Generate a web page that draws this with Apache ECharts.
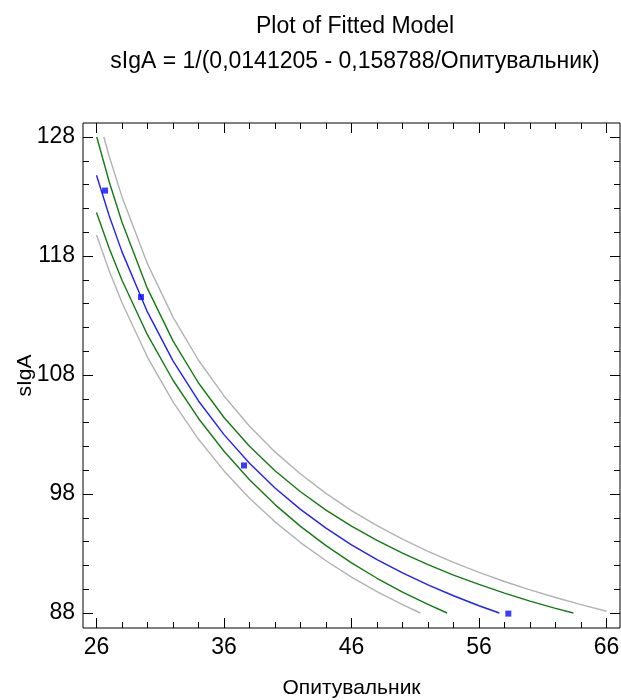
<!DOCTYPE html>
<html>
<head>
<meta charset="utf-8">
<script src="https://cdn.jsdelivr.net/npm/echarts@6/dist/echarts.min.js"></script>
<style>html,body{margin:0;padding:0;background:#fff;}#c{width:621px;height:700px;}</style>
</head>
<body>
<div id="c"></div>
<script>
// ---- data ----
const titleLine1 = 'Plot of Fitted Model';
const titleLine2 = 'sIgA = 1/(0,0141205 - 0,158788/Опитувальник)';
const xName = 'Опитувальник';
const yName = 'sIgA';
const xTickLabels = [26, 36, 46, 56, 66];
const yTickLabels = [88, 98, 108, 118, 128];
const xMinorTicks = [26,28,30,32,34,36,38,40,42,44,46,48,50,52,54,56,58,60,62,64,66];
const yMinorTicks = [88,90,92,94,96,98,100,102,104,106,108,110,112,114,116,118,120,122,124,126,128];

const obsX = [26.67, 29.49, 37.57, 58.3];
const obsY = [123.5, 114.55, 100.4, 87.95];

const fitX = [26,27,28,30,32,34,36,38,40,42,44,46,48,50,52,54,56,57.6];
const fitY = [124.79,121.37,118.35,113.28,109.19,105.82,102.99,100.58,98.51,96.71,95.13,93.73,92.49,91.37,90.36,89.45,88.61,88.0];

const upperConfX = [26.02,27,28,30,32,34,36,38,40,42,44,46,48,50,52,54,56,58,60,62,63.4];
const upperConfY = [128.0,124.22,120.84,115.26,110.87,107.33,104.43,102.01,99.96,98.19,96.65,95.30,94.10,93.03,92.06,91.19,90.40,89.67,89.00,88.39,88.0];

const lowerConfX = [26,27,28,30,32,34,36,38,40,42,44,46,48,50,52,53.5];
const lowerConfY = [121.66,118.64,115.96,111.37,107.56,104.35,101.59,99.20,97.11,95.28,93.66,92.21,90.92,89.76,88.72,88.0];

const upperPredX = [26.57,27,28,30,32,34,36,38,40,42,44,46,48,50,52,54,56,58,60,62,64,66];
const upperPredY = [128.0,126.36,122.97,117.34,112.87,109.24,106.24,103.70,101.54,99.68,98.05,96.61,95.34,94.20,93.18,92.26,91.42,90.65,89.95,89.30,88.71,88.15];

const lowerPredX = [26,27,28,30,32,34,36,38,40,42,44,46,48,50,51.4];
const lowerPredY = [119.77,116.75,114.07,109.49,105.74,102.60,99.94,97.65,95.66,93.92,92.39,91.02,89.80,88.70,88.0];

// ---- chart ----
const FONT = "'Liberation Sans', Arial, sans-serif";
const X_MIN = 24.94, X_MAX = 67.06, Y_MIN = 86.74, Y_MAX = 129.18;
const zip = (xs, ys) => xs.map((x, i) => [x, ys[i]]);

function xAxisDef(position, ticks, len, labels, named) {
  return {
    type: 'value', position: position, min: X_MIN, max: X_MAX,
    axisLine: { show: false },
    splitLine: { show: false },
    axisTick: { show: true, inside: true, length: len, customValues: ticks, lineStyle: { color: '#000', width: 1 } },
    axisLabel: labels ? { show: true, customValues: labels, color: '#000', fontSize: 23, fontFamily: FONT, margin: 8 } : { show: false },
    name: named ? xName : '', nameLocation: 'middle', nameGap: 50, nameMoveOverlap: false,
    nameTextStyle: { color: '#000', fontSize: 21, fontFamily: FONT }
  };
}
function yAxisDef(position, ticks, len, labels, named) {
  return {
    type: 'value', position: position, min: Y_MIN, max: Y_MAX,
    axisLine: { show: false },
    splitLine: { show: false },
    axisTick: { show: true, inside: true, length: len, customValues: ticks, lineStyle: { color: '#000', width: 1 } },
    axisLabel: labels ? { show: true, customValues: labels, color: '#000', fontSize: 23, fontFamily: FONT, margin: 8 } : { show: false },
    name: named ? yName : '', nameLocation: 'middle', nameGap: 47, nameMoveOverlap: false,
    nameTextStyle: { color: '#000', fontSize: 21, fontFamily: FONT }
  };
}

const chart = echarts.init(document.getElementById('c'), null, { renderer: 'canvas' });
const lineSeries = (name, xs, ys, color) => ({
  name: name, type: 'line', data: zip(xs, ys), showSymbol: false, symbol: 'none',
  smooth: false, silent: true,
  lineStyle: { color: color, width: 1.4 }, z: 2
});

chart.setOption({
  animation: false,
  backgroundColor: '#fff',
  title: [
    { text: titleLine1, left: 350, top: 10, textAlign: 'center',
      textStyle: { fontSize: 23, fontWeight: 'normal', color: '#000', fontFamily: FONT } },
    { text: titleLine2, left: 350, top: 45, textAlign: 'center',
      textStyle: { fontSize: 23, fontWeight: 'normal', color: '#000', fontFamily: FONT } }
  ],
  grid: { left: 83, right: 1, top: 123, height: 505, show: true, borderColor: '#000', borderWidth: 1,
          backgroundColor: '#fff', containLabel: false, outerBoundsMode: 'none' },
  xAxis: [
    xAxisDef('bottom', xTickLabels, 10, xTickLabels, true),
    xAxisDef('bottom', xMinorTicks, 6, null, false),
    xAxisDef('top', xTickLabels, 10, null, false),
    xAxisDef('top', xMinorTicks, 6, null, false)
  ],
  yAxis: [
    yAxisDef('left', yTickLabels, 10, yTickLabels, true),
    yAxisDef('left', yMinorTicks, 6, null, false),
    yAxisDef('right', yTickLabels, 10, null, false),
    yAxisDef('right', yMinorTicks, 6, null, false)
  ],
  series: [
    lineSeries('upperPred', upperPredX, upperPredY, '#b2b2b2'),
    lineSeries('lowerPred', lowerPredX, lowerPredY, '#b2b2b2'),
    lineSeries('upperConf', upperConfX, upperConfY, '#137a13'),
    lineSeries('lowerConf', lowerConfX, lowerConfY, '#137a13'),
    lineSeries('fit', fitX, fitY, '#1f1fff'),
    { name: 'observed', type: 'scatter', data: zip(obsX, obsY), symbol: 'rect', symbolSize: 6,
      itemStyle: { color: '#0a0aff' }, z: 3 }
  ]
});
</script>
</body>
</html>
